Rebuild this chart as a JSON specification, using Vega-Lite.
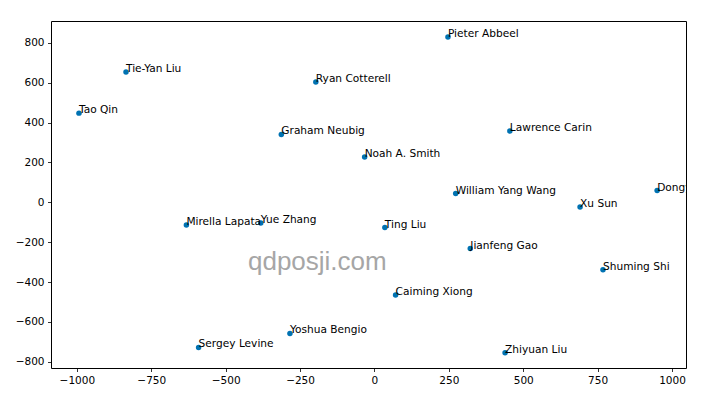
{
  "$schema": "https://vega.github.io/schema/vega-lite/v6.json",
  "width": 635,
  "height": 347,
  "autosize": {"type": "none"},
  "padding": {"left": 51, "top": 21, "right": 24, "bottom": 46},
  "background": "white",
  "config": {
    "view": {"stroke": "#000000", "strokeWidth": 1},
    "font": "DejaVu Sans",
    "axis": {
      "grid": false,
      "domain": false,
      "tickColor": "#000000",
      "tickSize": 3.5,
      "tickWidth": 0.8,
      "labelColor": "#000000",
      "labelFont": "DejaVu Sans",
      "labelFontSize": 10.5,
      "labelPadding": 3.5,
      "title": null,
      "format": "d"
    }
  },
  "datasets": {
    "points": [
      {"name": "Tao Qin", "x": -993, "y": 447},
      {"name": "Tie-Yan Liu", "x": -835, "y": 653},
      {"name": "Ryan Cotterell", "x": -197, "y": 603},
      {"name": "Graham Neubig", "x": -313, "y": 340},
      {"name": "Pieter Abbeel", "x": 247, "y": 829},
      {"name": "Lawrence Carin", "x": 455, "y": 357},
      {"name": "Noah A. Smith", "x": -33, "y": 227},
      {"name": "William Yang Wang", "x": 273, "y": 44},
      {"name": "Xu Sun", "x": 691, "y": -24},
      {"name": "Dongyan Zhao", "x": 950, "y": 59},
      {"name": "Mirella Lapata", "x": -632, "y": -114},
      {"name": "Yue Zhang", "x": -382, "y": -104},
      {"name": "Ting Liu", "x": 35, "y": -127},
      {"name": "Jianfeng Gao", "x": 322, "y": -232},
      {"name": "Shuming Shi", "x": 768, "y": -338},
      {"name": "Caiming Xiong", "x": 71, "y": -465},
      {"name": "Yoshua Bengio", "x": -284, "y": -658},
      {"name": "Sergey Levine", "x": -591, "y": -728},
      {"name": "Zhiyuan Liu", "x": 439, "y": -755}
    ],
    "mark": [
      {"label": "qdposji.com", "x": -192, "y": -340}
    ]
  },
  "encoding": {
    "x": {
      "field": "x",
      "type": "quantitative",
      "scale": {"domain": [-1087, 1047], "nice": false, "zero": false},
      "axis": {"values": [-1000, -750, -500, -250, 0, 250, 500, 750, 1000], "format": "d"}
    },
    "y": {
      "field": "y",
      "type": "quantitative",
      "scale": {"domain": [-831, 909], "nice": false, "zero": false},
      "axis": {"values": [-800, -600, -400, -200, 0, 200, 400, 600, 800], "format": "d"}
    }
  },
  "layer": [
    {
      "data": {"name": "points"},
      "mark": {"type": "point", "filled": true, "shape": "circle", "size": 30, "color": "#0072B2", "opacity": 1}
    },
    {
      "data": {"name": "points"},
      "mark": {"type": "text", "align": "left", "baseline": "alphabetic", "fontSize": 10.6, "color": "#000000", "font": "DejaVu Sans", "clip": true},
      "encoding": {"text": {"field": "name"}}
    },
    {
      "data": {"name": "mark"},
      "mark": {"type": "text", "align": "center", "baseline": "alphabetic", "fontSize": 26, "color": "#a6a6a6", "font": "Liberation Sans"},
      "encoding": {"text": {"field": "label"}}
    }
  ]
}
